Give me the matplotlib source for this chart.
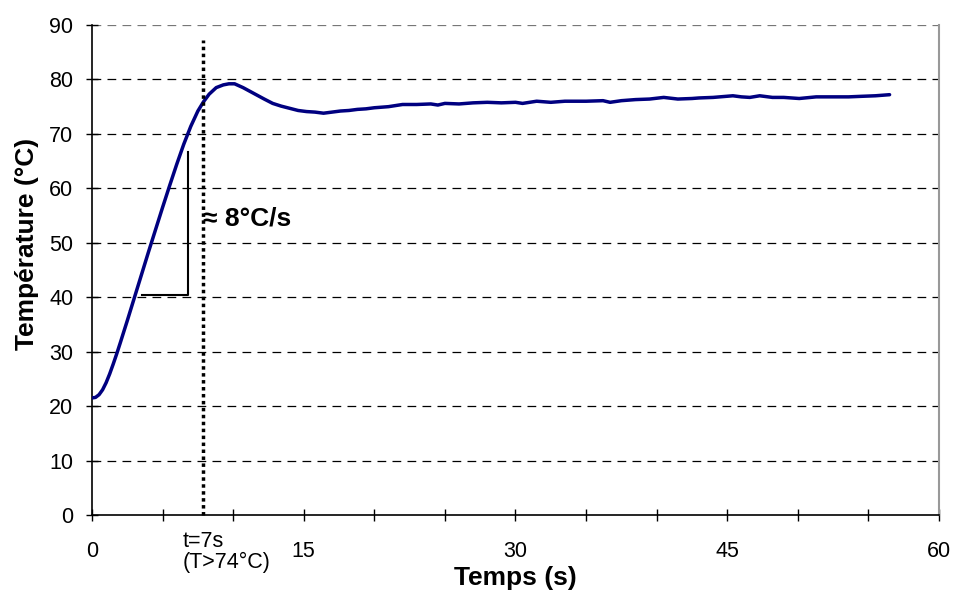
import matplotlib
matplotlib.use("Agg")
import matplotlib.pyplot as plt
import matplotlib.transforms as mtransforms

plt.rcParams['font.family'] = ['Liberation Sans', 'DejaVu Sans']

# Time (s) and temperature (°C)
time_s = [0.0, 0.25, 0.5, 0.75, 1.0, 1.25, 1.5, 1.75, 2.0, 2.5, 3.0, 3.5, 4.0,
          4.5, 5.0, 5.5, 6.0, 6.5, 7.0, 7.5, 7.9, 8.3, 8.8, 9.3, 9.7, 10.1,
          10.7, 11.2, 11.7, 12.2, 12.8, 13.4, 14.0, 14.6, 15.2, 15.8, 16.4,
          17.0, 17.6, 18.2, 18.8, 19.4, 20.0, 21.0, 22.0, 23.0, 24.0, 24.5,
          25.0, 26.0, 27.0, 28.0, 29.0, 30.0, 30.5, 31.5, 32.5, 33.5, 35.0,
          36.2, 36.7, 37.5, 38.5, 39.5, 40.5, 41.5, 42.5, 43.0, 44.0, 45.4,
          46.0, 46.6, 47.3, 48.2, 49.0, 50.1, 51.3, 52.5, 53.6, 54.5, 55.5, 56.5]
temp_c = [21.5, 21.6, 22.1, 23.0, 24.3, 25.9, 27.7, 29.6, 31.6, 35.7, 39.9,
          44.1, 48.3, 52.4, 56.5, 60.5, 64.4, 68.1, 71.4, 74.2, 75.9, 77.3,
          78.5, 79.0, 79.2, 79.2, 78.5, 77.8, 77.1, 76.4, 75.6, 75.1, 74.7,
          74.3, 74.1, 74.0, 73.8, 74.0, 74.2, 74.3, 74.5, 74.6, 74.8, 75.0,
          75.4, 75.4, 75.5, 75.3, 75.6, 75.5, 75.7, 75.8, 75.7, 75.8, 75.6,
          76.0, 75.8, 76.0, 76.0, 76.1, 75.8, 76.1, 76.3, 76.4, 76.7, 76.4,
          76.5, 76.6, 76.7, 77.0, 76.8, 76.7, 77.0, 76.7, 76.7, 76.5, 76.8,
          76.8, 76.8, 76.9, 77.0, 77.2]

# Annotation values
t_mark = 7.85          # dotted vertical line position
t_mark_top = 87.2
slope_x = [3.51, 6.82, 6.82]   # slope triangle
slope_y = [40.4, 40.4, 66.6]

x_ticks = [0, 15, 30, 45, 60]
x_minor = [5, 10, 20, 25, 35, 40, 50, 55]
y_ticks = [0, 10, 20, 30, 40, 50, 60, 70, 80, 90]

fig = plt.figure(figsize=(9.54, 5.93), dpi=100)
ax = fig.add_axes([92/954, 78/593, 847/954, 490/593])

ax.set_xlim(0, 60)
ax.set_ylim(0, 90)

# grid
for y in y_ticks[1:]:
    ax.axhline(y, color='#777777' if y == 90 else 'black', lw=0.9,
               dashes=(7, 5), zorder=1)

ax.plot(time_s, temp_c, color='#000080', lw=2.5, zorder=4,
        solid_capstyle='round', solid_joinstyle='round')

ax.plot(slope_x, slope_y, color='black', lw=1.5, zorder=3)

ax.plot([t_mark, t_mark], [0, t_mark_top], color='black', lw=2.5,
        linestyle=(0, (1, 1)), zorder=5, clip_on=False)

ax.text(t_mark, 54.5, '≈ 8°C/s', fontsize=19, fontweight='bold',
        ha='left', va='center', zorder=6)

trans = mtransforms.blended_transform_factory(ax.transData, ax.transAxes)
ax.text(6.4, -0.033, 't=7s\n(T>74°C)', transform=trans, fontsize=15.5,
        ha='left', va='top', linespacing=1.0)

ax.set_xticks(x_ticks)
ax.set_xticks(x_minor, minor=True)
ax.set_yticks(y_ticks)
ax.tick_params(axis='both', which='both', direction='inout', length=9,
               width=1, colors='black', labelsize=15.5)
ax.tick_params(axis='x', which='major', pad=14)
ax.tick_params(axis='y', which='major', pad=9)

for side in ['left', 'bottom']:
    ax.spines[side].set_color('black')
    ax.spines[side].set_linewidth(1.2)
ax.spines['top'].set_visible(False)
ax.spines['right'].set_color('#999999')
ax.spines['right'].set_linewidth(1.5)

fig.text(515/954, 1 - 578/593, 'Temps (s)', fontsize=19, fontweight='bold',
         ha='center', va='center')
fig.text(27/954, 1 - 244/593, 'Température (°C)', fontsize=19,
         fontweight='bold', ha='center', va='center', rotation=90)

fig.savefig('out.png', dpi=100)
